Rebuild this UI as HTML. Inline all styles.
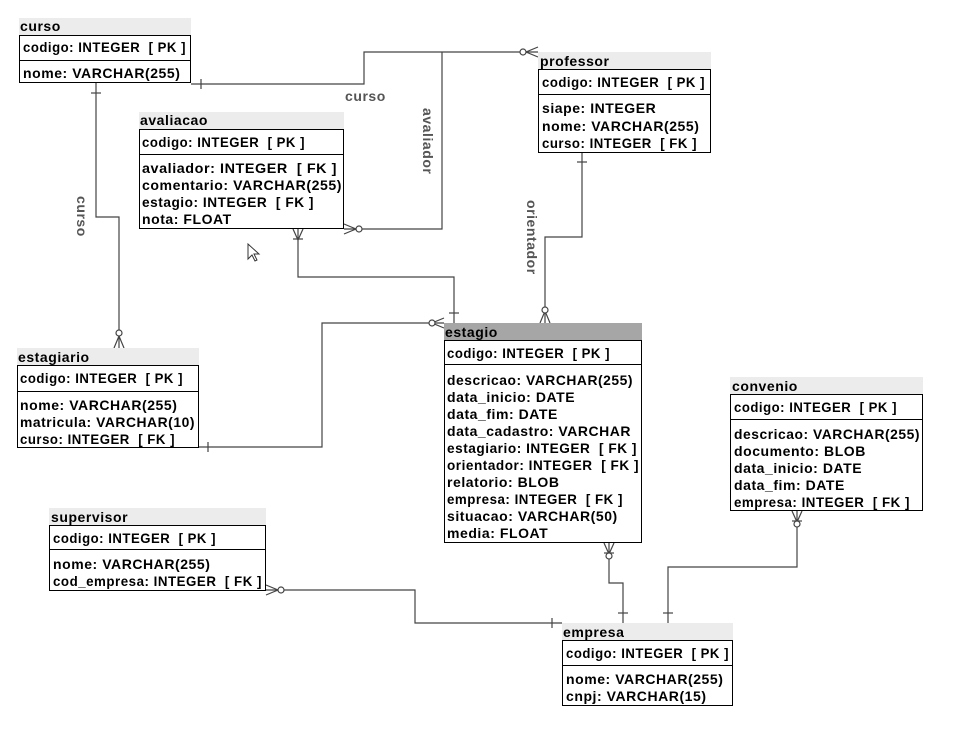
<!DOCTYPE html>
<html><head><meta charset="utf-8"><style>
html,body{margin:0;padding:0;background:#fff;}
svg{display:block}
text{font-family:"Liberation Sans",sans-serif;font-weight:bold;font-size:14px;letter-spacing:0.55px;fill:#000;white-space:pre}
.lbl{fill:#555;font-size:14px}
.ln{stroke:#444;stroke-width:1.2;fill:none}
.bx{stroke:#000;stroke-width:1;fill:#fff}
</style></head><body>
<svg width="953" height="732" viewBox="0 0 953 732" xmlns="http://www.w3.org/2000/svg" xml:space="preserve">
<g class="ln">
<polyline points="191,84 364,84 364,52 538,52"/>
<line x1="201" y1="79" x2="201" y2="89"/>
<path d="M538,47 L526,52 L538,57"/><circle cx="523" cy="52" r="3" fill="#fff"/>
<polyline points="442,52 442,229 344,229"/>
<path d="M344,224 L356,229 L344,234"/><circle cx="359" cy="229" r="3" fill="#fff"/>
<polyline points="96,82 96,217 119,217 119,348"/>
<line x1="91" y1="93" x2="101" y2="93"/>
<path d="M114,348 L119,336 L124,348"/><circle cx="119" cy="333" r="3" fill="#fff"/>
<polyline points="298,228 298,277 454,277 454,323"/>
<path d="M293,229 L298,240 L303,229"/><line x1="293" y1="239" x2="303" y2="239"/>
<line x1="449" y1="313" x2="459" y2="313"/>
<polyline points="199,447 322,447 322,323 444,323"/>
<line x1="208" y1="442" x2="208" y2="452"/>
<path d="M444,318 L432,323 L444,328"/><circle cx="432" cy="323" r="3" fill="#fff"/>
<polyline points="582,152 582,237 545,237 545,323"/>
<line x1="577" y1="162" x2="587" y2="162"/>
<path d="M540,323 L545,311 L550,323"/><circle cx="545" cy="310" r="3" fill="#fff"/>
<polyline points="609,542 609,583 623,583 623,623"/>
<path d="M604,543 L609,554 L614,543"/><line x1="604" y1="553" x2="614" y2="553"/><circle cx="609" cy="556" r="3" fill="#fff"/>
<line x1="618" y1="613" x2="628" y2="613"/>
<polyline points="797,510 797,567 668,567 668,623"/>
<path d="M792,511 L797,522 L802,511"/><line x1="792" y1="521" x2="802" y2="521"/><circle cx="797" cy="524" r="3" fill="#fff"/>
<line x1="663" y1="613" x2="673" y2="613"/>
<polyline points="266,590 415,590 415,623 562,623"/>
<path d="M266,585 L278,590 L266,595"/><circle cx="281" cy="590" r="3" fill="#fff"/>
<line x1="552" y1="618" x2="552" y2="628"/>
</g>
<text class="lbl" x="345" y="101">curso</text>
<text class="lbl" transform="translate(423,108) rotate(90)">avaliador</text>
<text class="lbl" transform="translate(77,196) rotate(90)">curso</text>
<text class="lbl" transform="translate(527,200) rotate(90)">orientador</text>
<path d="M248,244 L248,259 L252,255 L255,261 L257,260 L254,254 L259,254 Z" fill="#fff" stroke="#333" stroke-width="1"/>

<rect x="19" y="18" width="172" height="17" fill="#ececec"/>
<text x="20" y="31">curso</text>
<rect class="bx" x="19.5" y="35.5" width="171" height="47"/>
<line x1="19" y1="60.5" x2="191" y2="60.5" stroke="#000"/>
<text x="23" y="52" textLength="163" lengthAdjust="spacingAndGlyphs">codigo: INTEGER  [ PK ]</text>
<text x="23" y="78">nome: VARCHAR(255)</text>

<rect x="139" y="112" width="205" height="17" fill="#ececec"/>
<text x="140" y="125">avaliacao</text>
<rect class="bx" x="139.5" y="129.5" width="204" height="99"/>
<line x1="139" y1="154.5" x2="344" y2="154.5" stroke="#000"/>
<text x="142" y="147" textLength="163" lengthAdjust="spacingAndGlyphs">codigo: INTEGER  [ PK ]</text>
<text x="142" y="173" textLength="195" lengthAdjust="spacingAndGlyphs">avaliador: INTEGER  [ FK ]</text>
<text x="142" y="190" textLength="200" lengthAdjust="spacingAndGlyphs">comentario: VARCHAR(255)</text>
<text x="142" y="207" textLength="172" lengthAdjust="spacingAndGlyphs">estagio: INTEGER  [ FK ]</text>
<text x="142" y="224">nota: FLOAT</text>

<rect x="538" y="52" width="173" height="17" fill="#ececec"/>
<text x="540" y="66">professor</text>
<rect class="bx" x="538.5" y="69.5" width="172" height="83"/>
<line x1="538" y1="94.5" x2="711" y2="94.5" stroke="#000"/>
<text x="542" y="87" textLength="163" lengthAdjust="spacingAndGlyphs">codigo: INTEGER  [ PK ]</text>
<text x="542" y="113">siape: INTEGER</text>
<text x="542" y="131">nome: VARCHAR(255)</text>
<text x="542" y="148" textLength="155" lengthAdjust="spacingAndGlyphs">curso: INTEGER  [ FK ]</text>

<rect x="17" y="348" width="182" height="17" fill="#ececec"/>
<text x="18" y="362">estagiario</text>
<rect class="bx" x="17.5" y="365.5" width="181" height="82"/>
<line x1="17" y1="391.5" x2="199" y2="391.5" stroke="#000"/>
<text x="20" y="383" textLength="163" lengthAdjust="spacingAndGlyphs">codigo: INTEGER  [ PK ]</text>
<text x="20" y="410">nome: VARCHAR(255)</text>
<text x="20" y="427" textLength="175" lengthAdjust="spacingAndGlyphs">matricula: VARCHAR(10)</text>
<text x="20" y="444" textLength="155" lengthAdjust="spacingAndGlyphs">curso: INTEGER  [ FK ]</text>

<rect x="444" y="323" width="198" height="17" fill="#a6a6a6"/>
<text x="445" y="337">estagio</text>
<rect class="bx" x="444.5" y="340.5" width="197" height="202"/>
<line x1="444" y1="364.5" x2="642" y2="364.5" stroke="#000"/>
<text x="447" y="358" textLength="163" lengthAdjust="spacingAndGlyphs">codigo: INTEGER  [ PK ]</text>
<text x="447" y="385" textLength="186" lengthAdjust="spacingAndGlyphs">descricao: VARCHAR(255)</text>
<text x="447" y="402">data_inicio: DATE</text>
<text x="447" y="419">data_fim: DATE</text>
<text x="447" y="436" textLength="184" lengthAdjust="spacingAndGlyphs">data_cadastro: VARCHAR</text>
<text x="447" y="453" textLength="190" lengthAdjust="spacingAndGlyphs">estagiario: INTEGER  [ FK ]</text>
<text x="447" y="470" textLength="192" lengthAdjust="spacingAndGlyphs">orientador: INTEGER  [ FK ]</text>
<text x="447" y="487">relatorio: BLOB</text>
<text x="447" y="504" textLength="176" lengthAdjust="spacingAndGlyphs">empresa: INTEGER  [ FK ]</text>
<text x="447" y="521">situacao: VARCHAR(50)</text>
<text x="447" y="538">media: FLOAT</text>

<rect x="730" y="377" width="193" height="17" fill="#ececec"/>
<text x="732" y="391">convenio</text>
<rect class="bx" x="730.5" y="394.5" width="192" height="116"/>
<line x1="730" y1="419.5" x2="923" y2="419.5" stroke="#000"/>
<text x="734" y="412" textLength="163" lengthAdjust="spacingAndGlyphs">codigo: INTEGER  [ PK ]</text>
<text x="734" y="439" textLength="186" lengthAdjust="spacingAndGlyphs">descricao: VARCHAR(255)</text>
<text x="734" y="456">documento: BLOB</text>
<text x="734" y="473">data_inicio: DATE</text>
<text x="734" y="490">data_fim: DATE</text>
<text x="734" y="507" textLength="176" lengthAdjust="spacingAndGlyphs">empresa: INTEGER  [ FK ]</text>

<rect x="49" y="508" width="217" height="17" fill="#ececec"/>
<text x="51" y="522">supervisor</text>
<rect class="bx" x="49.5" y="525.5" width="216" height="65"/>
<line x1="49" y1="549.5" x2="266" y2="549.5" stroke="#000"/>
<text x="53" y="543" textLength="163" lengthAdjust="spacingAndGlyphs">codigo: INTEGER  [ PK ]</text>
<text x="53" y="569">nome: VARCHAR(255)</text>
<text x="53" y="586" textLength="209" lengthAdjust="spacingAndGlyphs">cod_empresa: INTEGER  [ FK ]</text>

<rect x="562" y="623" width="171" height="17" fill="#ececec"/>
<text x="563" y="637">empresa</text>
<rect class="bx" x="562.5" y="640.5" width="170" height="65"/>
<line x1="562" y1="665.5" x2="733" y2="665.5" stroke="#000"/>
<text x="566" y="658" textLength="163" lengthAdjust="spacingAndGlyphs">codigo: INTEGER  [ PK ]</text>
<text x="566" y="684">nome: VARCHAR(255)</text>
<text x="566" y="701">cnpj: VARCHAR(15)</text>
</svg>
</body></html>
